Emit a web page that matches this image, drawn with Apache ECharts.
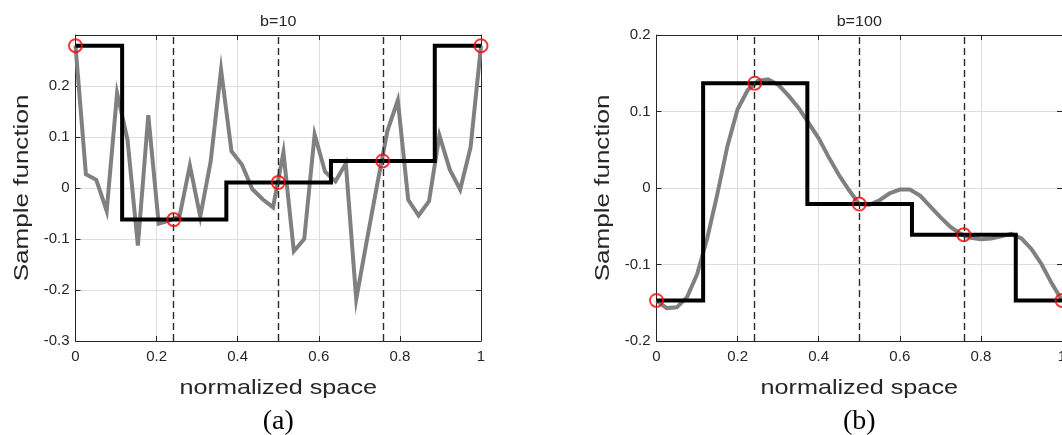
<!DOCTYPE html>
<html>
<head>
<meta charset="utf-8">
<script src="https://cdn.jsdelivr.net/npm/echarts@6/dist/echarts.min.js"></script>
<style>
  html, body { margin: 0; padding: 0; background: #ffffff; }
  #chart { width: 1062px; height: 435px; }
</style>
</head>
<body>
<div id="chart"></div>
<script>
// Panel (a), b=10: rough sample function on 40 equally spaced points
const roughY = [0.279, 0.027, 0.016, -0.045, 0.186, 0.095, -0.113, 0.143, -0.070, -0.064,
                -0.056, 0.044, -0.056, 0.052, 0.232, 0.072, 0.046, -0.002, -0.022, -0.038,
                0.070, -0.124, -0.100, 0.105, 0.032, 0.013, 0.048, -0.218, -0.105, 0.005,
                0.112, 0.172, -0.023, -0.054, -0.026, 0.103, 0.036, -0.003, 0.080, 0.279];
const roughX = roughY.map((_, i) => i / (roughY.length - 1));

// Panel (b), b=100: smooth sample function
const smoothX = [0, 0.025, 0.05, 0.075, 0.1, 0.125, 0.15, 0.175, 0.2, 0.225,
                 0.25, 0.275, 0.3, 0.325, 0.35, 0.375, 0.4, 0.425, 0.45, 0.475,
                 0.5, 0.525, 0.55, 0.575, 0.6, 0.625, 0.65, 0.675, 0.7, 0.725,
                 0.75, 0.775, 0.8, 0.825, 0.85, 0.875, 0.9, 0.925, 0.95, 0.975, 1];
const smoothY = [-0.147, -0.157, -0.156, -0.143, -0.113, -0.066, -0.008, 0.055, 0.103, 0.128,
                 0.140, 0.142, 0.135, 0.121, 0.105, 0.085, 0.065, 0.040, 0.017, -0.003,
                 -0.021, -0.022, -0.016, -0.007, -0.002, -0.002, -0.010, -0.024, -0.038, -0.051,
                 -0.060, -0.065, -0.067, -0.066, -0.063, -0.060, -0.066, -0.080, -0.100, -0.125,
                 -0.147];

// Sample locations (dashed lines and red circles) and sampled values
const sampleX = [0, 0.2424, 0.5, 0.7576, 1];
const dashX = [0.2424, 0.5, 0.7576];
const roughSamples = [0.279, -0.062, 0.011, 0.053, 0.279];
const smoothSamples = [-0.147, 0.137, -0.021, -0.061, -0.147];

// Piecewise-constant reconstruction: edges between the cells
const stepEdges = [0, 0.115, 0.372, 0.63, 0.886, 1];

const xTicks = [0, 0.2, 0.4, 0.6, 0.8, 1];
const panelTitles = ['b=10', 'b=100'];
const panelLetters = ['(a)', '(b)'];
const yLabel = 'Sample function';
const xLabel = 'normalized space';

const AX = '#262626';
const FONT = "'Liberation Sans', Arial, sans-serif";

function pairs(xs, ys) { return xs.map((x, i) => [x, ys[i]]); }

function stepPoints(edges, levels) {
  const pts = [];
  levels.forEach((v, i) => { pts.push([edges[i], v]); pts.push([edges[i + 1], v]); });
  return pts;
}

function fmt(v) { const n = Number(v.toFixed(1)); return (n === 0 ? 0 : n).toString(); }

const panels = [
  { left: 75.5, yMin: -0.3, yMax: 0.3, hideTop: true,
    curve: pairs(roughX, roughY), samples: roughSamples },
  { left: 656.5, yMin: -0.2, yMax: 0.2, hideTop: false,
    curve: pairs(smoothX, smoothY), samples: smoothSamples }
];
const GW = 405.5, GT = 35, GH = 306;

const grid = [], xAxis = [], yAxis = [], series = [], graphic = [];

panels.forEach((p, k) => {
  grid.push({ left: p.left, top: GT, width: GW, height: GH, containLabel: false, outerBoundsMode: 'none' });
  const tickStyle = { show: true, inside: true, length: 5, lineStyle: { color: AX, width: 1 } };
  const lineStyle = { show: true, onZero: false, lineStyle: { color: AX, width: 1 } };
  // bottom and top x axes
  xAxis.push({
    gridIndex: k, type: 'value', min: 0, max: 1, interval: 0.2, position: 'bottom',
    axisLine: lineStyle, axisTick: tickStyle,
    axisLabel: { color: AX, fontSize: 15, fontFamily: FONT, margin: 8, hideOverlap: false,
                 formatter: v => xTicks.includes(Number(v.toFixed(1))) ? fmt(v) : '' },
    splitLine: { show: true, lineStyle: { color: '#dedede', width: 1 } }
  });
  xAxis.push({
    gridIndex: k, type: 'value', min: 0, max: 1, interval: 0.2, position: 'top',
    axisLine: lineStyle, axisTick: tickStyle, axisLabel: { show: false }, splitLine: { show: false }
  });
  // left and right y axes
  yAxis.push({
    gridIndex: k, type: 'value', min: p.yMin, max: p.yMax, interval: 0.1, position: 'left',
    axisLine: lineStyle, axisTick: tickStyle,
    axisLabel: { color: AX, fontSize: 15, fontFamily: FONT, margin: 6,
                 formatter: v => (p.hideTop && Math.abs(v - p.yMax) < 1e-9) ? '' : fmt(v) },
    splitLine: { show: true, lineStyle: { color: '#dedede', width: 1 } }
  });
  yAxis.push({
    gridIndex: k, type: 'value', min: p.yMin, max: p.yMax, interval: 0.1, position: 'right',
    axisLine: lineStyle, axisTick: tickStyle, axisLabel: { show: false }, splitLine: { show: false }
  });
  const xi = k * 2, yi = k * 2;

  // sampled function (grey)
  series.push({
    type: 'line', xAxisIndex: xi, yAxisIndex: yi, data: p.curve, symbol: 'none',
    lineStyle: { color: '#808080', width: 4, join: 'miter', miterLimit: 10 }, z: 2, silent: true
  });
  // sample locations (dashed verticals)
  series.push({
    type: 'line', xAxisIndex: xi, yAxisIndex: yi, data: [], z: 3, silent: true,
    markLine: {
      symbol: 'none', silent: true, animation: false, label: { show: false },
      lineStyle: { color: '#2b2b2b', width: 1.4, type: [7, 4] },
      data: dashX.map(x => ({ xAxis: x }))
    }
  });
  // nearest-sample reconstruction (black)
  series.push({
    type: 'line', xAxisIndex: xi, yAxisIndex: yi, data: stepPoints(stepEdges, p.samples),
    symbol: 'none', lineStyle: { color: '#000000', width: 4, join: 'miter', cap: 'butt' },
    z: 4, silent: true
  });
  // sampled values (red circles)
  series.push({
    type: 'scatter', xAxisIndex: xi, yAxisIndex: yi, data: pairs(sampleX, p.samples),
    symbol: 'circle', symbolSize: 13,
    itemStyle: { color: 'rgba(0,0,0,0)', borderColor: '#ff0000', borderWidth: 2 },
    z: 5, silent: true
  });

  const cx = p.left + GW / 2;
  graphic.push({
    type: 'text', x: cx, y: 22, scaleX: 1.15, silent: true,
    style: { text: panelTitles[k], fill: AX, font: '14px ' + FONT,
             textAlign: 'center', textVerticalAlign: 'middle', align: 'center', verticalAlign: 'middle' }
  });
  graphic.push({
    type: 'text', x: cx, y: 388, scaleX: 1.2, silent: true,
    style: { text: xLabel, fill: AX, font: '21px ' + FONT,
             textAlign: 'center', textVerticalAlign: 'middle', align: 'center', verticalAlign: 'middle' }
  });
  graphic.push({
    type: 'text', x: p.left - 53.5, y: GT + GH / 2, rotation: Math.PI / 2, scaleX: 1.24, silent: true,
    style: { text: yLabel, fill: AX, font: '21px ' + FONT,
             textAlign: 'center', textVerticalAlign: 'middle', align: 'center', verticalAlign: 'middle' }
  });
  graphic.push({
    type: 'text', x: cx, y: 422, silent: true,
    style: { text: panelLetters[k], fill: '#000000', font: "28px 'Liberation Serif', 'Times New Roman', serif",
             textAlign: 'center', textVerticalAlign: 'middle', align: 'center', verticalAlign: 'middle' }
  });
});

const chart = echarts.init(document.getElementById('chart'), null, { renderer: 'canvas' });
chart.setOption({
  backgroundColor: '#ffffff',
  animation: false,
  grid, xAxis, yAxis, series, graphic
});
</script>
</body>
</html>
